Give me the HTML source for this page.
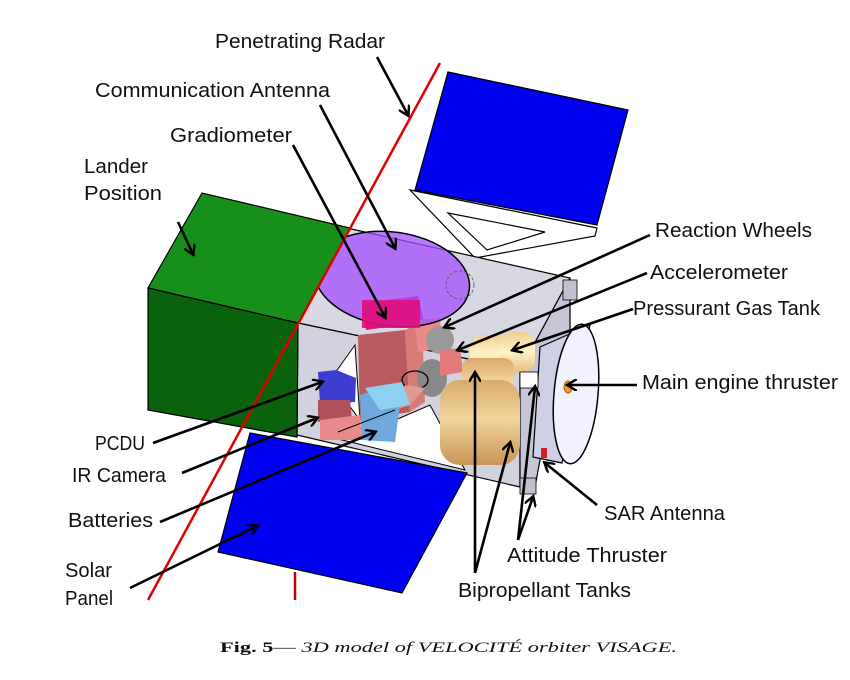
<!DOCTYPE html>
<html><head><meta charset="utf-8"><style>
html,body{margin:0;padding:0;background:#fff;}
svg{display:block;}
text{font-family:"Liberation Sans",sans-serif;font-size:20px;fill:#111;}
</style></head><body>
<svg width="850" height="680" viewBox="0 0 850 680" xmlns="http://www.w3.org/2000/svg">
<defs>
<marker id="a" markerWidth="12" markerHeight="12" refX="9" refY="6" orient="auto" markerUnits="userSpaceOnUse">
<path d="M0,0 L10,6 L0,12" fill="none" stroke="#000" stroke-width="2.4"/>
</marker>
<linearGradient id="tank" x1="0" y1="0" x2="0" y2="1">
<stop offset="0" stop-color="#d9a86a"/><stop offset="0.45" stop-color="#f3d59c"/><stop offset="1" stop-color="#c99557"/>
</linearGradient>
<linearGradient id="tank2" x1="0" y1="0" x2="0" y2="1">
<stop offset="0" stop-color="#f0d090"/><stop offset="0.5" stop-color="#fff2c8"/><stop offset="1" stop-color="#e6bf80"/>
</linearGradient>
</defs>

<!-- top solar panel -->
<polygon points="448,72 628,110 597,225 415,190" fill="#0000f0" stroke="#000" stroke-width="1.2"/>
<polygon points="410,190 597,228 595,236 475,258" fill="#fff" stroke="#000" stroke-width="1.2"/>
<polygon points="448,213 545,232 487,250" fill="#fff" stroke="#000" stroke-width="1.2"/>

<!-- body -->
<polygon points="347,228 570,278 520,370 298,323" fill="#d8d8e2" stroke="#000" stroke-width="1.2"/>
<polygon points="298,323 520,370 520,487 297,435" fill="#d2d2de" stroke="#000" stroke-width="1.2"/>
<polygon points="520,370 570,278 570,330 540,460 535,487 520,487" fill="#c6c6d6" stroke="#000" stroke-width="1.2"/>
<polygon points="330,380 355,345 360,420" fill="#fff" stroke="#000" stroke-width="1"/>
<polygon points="400,418 430,405 465,470 330,437" fill="#fff" stroke="#000" stroke-width="1"/>

<!-- red column + magenta -->
<polygon points="358,335 405,330 410,412 360,420" fill="#b85a5e"/>
<polygon points="405,330 422,322 425,402 410,412" fill="#d87a78"/>
<polygon points="362,303 418,296 424,322 366,330" fill="#e0107c"/>
<polygon points="414,320 440,318 442,348 418,352" fill="#e88a88"/>
<ellipse cx="440" cy="340" rx="14" ry="14" fill="#999"/>
<ellipse cx="432" cy="378" rx="15" ry="19" fill="#888"/>
<polygon points="440,350 460,348 463,372 440,376" fill="#e37a7a"/>
<ellipse cx="415" cy="380" rx="13" ry="9" fill="none" stroke="#000" stroke-width="1.3"/>
<polygon points="405,385 425,388 410,405 395,410" fill="#e09a90"/>
<polygon points="318,372 336,370 356,378 355,402 320,404" fill="#3c3cd0"/>
<polygon points="318,400 350,400 352,420 318,422" fill="#b05058"/>
<polygon points="320,420 360,415 362,440 320,440" fill="#e88a8a"/>
<polygon points="360,395 392,385 400,405 395,442 362,440" fill="#6fa8dc"/>
<polygon points="365,388 402,382 410,405 380,410" fill="#8fd0f0"/>
<line x1="338" y1="432" x2="395" y2="410" stroke="#000" stroke-width="1"/>
<rect x="470" y="335" width="55" height="40" rx="14" fill="url(#tank2)"/>
<rect x="500" y="332" width="35" height="40" rx="12" fill="url(#tank2)"/>
<rect x="462" y="358" width="52" height="55" rx="10" fill="url(#tank)"/>
<rect x="440" y="380" width="80" height="85" rx="20" fill="url(#tank)"/>

<ellipse cx="392" cy="279" rx="78" ry="47" transform="rotate(8 392 279)" fill="#a64dff" fill-opacity="0.75" stroke="#000" stroke-width="1.5"/>
<rect x="362" y="300" width="58" height="28" fill="#e0107c" fill-opacity="0.9"/>
<circle cx="460" cy="285" r="14" fill="none" stroke="#555" stroke-width="0.8" stroke-dasharray="3,2"/>

<polygon points="540,347 590,325 562,463 533,457" fill="#cfcfe8" stroke="#000" stroke-width="1.2"/>
<ellipse cx="576" cy="394" rx="22" ry="70" transform="rotate(5 576 394)" fill="#f2f2ff" stroke="#000" stroke-width="1.5"/>
<ellipse cx="568" cy="387" rx="4" ry="6" fill="#f0a020" stroke="#a06000"/>
<rect x="563" y="280" width="14" height="20" fill="#c0c0d0" stroke="#000" stroke-width="0.8"/>
<rect x="520" y="372" width="18" height="16" fill="#fff" stroke="#000" stroke-width="0.8"/>
<rect x="520" y="478" width="16" height="16" fill="#c0c0d0" stroke="#000" stroke-width="0.8"/>
<rect x="541" y="448" width="6" height="10" fill="#d02020"/>

<polygon points="148,288 202,193 350,228 298,323" fill="#16901a" stroke="#000" stroke-width="1.2"/>
<polygon points="148,288 298,323 297,437 148,410" fill="#0b620c" stroke="#000" stroke-width="1.2"/>

<polygon points="250,433 467,473 402,593 218,552" fill="#0000f0" stroke="#000" stroke-width="1.2"/>

<line x1="440" y1="63" x2="148" y2="600" stroke="#e00000" stroke-width="2.5"/>
<line x1="295" y1="572" x2="295" y2="600" stroke="#c00000" stroke-width="2.5"/>

<g stroke="#000" stroke-width="2.6" fill="none" marker-end="url(#a)">
<line x1="377" y1="57" x2="408" y2="115"/>
<line x1="320" y1="105" x2="395" y2="248"/>
<line x1="293" y1="145" x2="385" y2="317"/>
<line x1="178" y1="222" x2="193" y2="254"/>
<line x1="650" y1="235" x2="445" y2="327"/>
<line x1="647" y1="273" x2="458" y2="350"/>
<line x1="633" y1="309" x2="513" y2="350"/>
<line x1="637" y1="385" x2="568" y2="385"/>
<line x1="597" y1="505" x2="545" y2="463"/>
<line x1="518" y1="540" x2="535" y2="387"/>
<line x1="518" y1="540" x2="533" y2="497"/>
<line x1="475" y1="573" x2="475" y2="373"/>
<line x1="475" y1="573" x2="510" y2="443"/>
<line x1="153" y1="443" x2="322" y2="382"/>
<line x1="182" y1="473" x2="317" y2="418"/>
<line x1="160" y1="522" x2="375" y2="432"/>
<line x1="130" y1="588" x2="257" y2="526"/>
</g>

<text x="215" y="48" textLength="170" lengthAdjust="spacingAndGlyphs">Penetrating Radar</text>
<text x="95" y="97" textLength="235" lengthAdjust="spacingAndGlyphs">Communication Antenna</text>
<text x="170" y="142" textLength="122" lengthAdjust="spacingAndGlyphs">Gradiometer</text>
<text x="84" y="173" textLength="64" lengthAdjust="spacingAndGlyphs">Lander</text>
<text x="84" y="200" textLength="78" lengthAdjust="spacingAndGlyphs">Position</text>
<text x="655" y="237" textLength="157" lengthAdjust="spacingAndGlyphs">Reaction Wheels</text>
<text x="650" y="279" textLength="138" lengthAdjust="spacingAndGlyphs">Accelerometer</text>
<text x="633" y="315" textLength="187" lengthAdjust="spacingAndGlyphs">Pressurant Gas Tank</text>
<text x="642" y="389" textLength="196" lengthAdjust="spacingAndGlyphs">Main engine thruster</text>
<text x="604" y="520" textLength="121" lengthAdjust="spacingAndGlyphs">SAR Antenna</text>
<text x="507" y="562" textLength="160" lengthAdjust="spacingAndGlyphs">Attitude Thruster</text>
<text x="458" y="597" textLength="173" lengthAdjust="spacingAndGlyphs">Bipropellant Tanks</text>
<text x="95" y="450" textLength="50" lengthAdjust="spacingAndGlyphs">PCDU</text>
<text x="72" y="482" textLength="94" lengthAdjust="spacingAndGlyphs">IR Camera</text>
<text x="68" y="527" textLength="85" lengthAdjust="spacingAndGlyphs">Batteries</text>
<text x="65" y="577" textLength="47" lengthAdjust="spacingAndGlyphs">Solar</text>
<text x="65" y="605" textLength="48" lengthAdjust="spacingAndGlyphs">Panel</text>

<text x="220" y="652" textLength="457" lengthAdjust="spacingAndGlyphs" style="font-family:'Liberation Serif',serif;font-size:15px"><tspan font-weight="bold">Fig. 5</tspan>— <tspan font-style="italic">3D model of VELOCITÉ orbiter VISAGE.</tspan></text>
</svg>
</body></html>
